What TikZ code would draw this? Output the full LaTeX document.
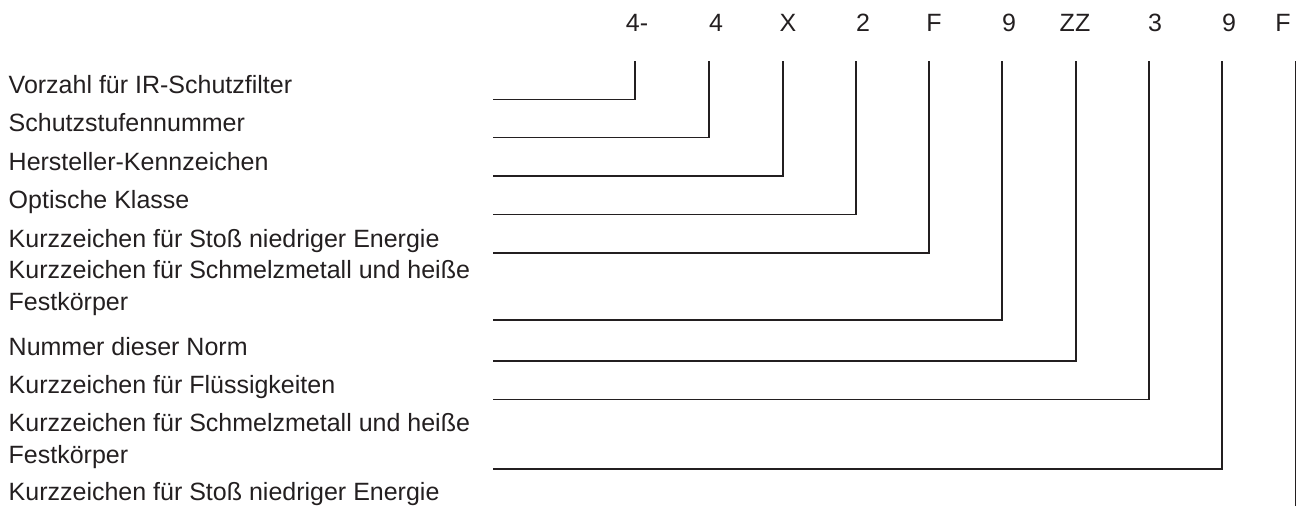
\documentclass[tikz,border=0pt]{standalone}
\usepackage{fontspec}
\setmainfont{Liberation Sans}
\usepackage{tikz}
\usetikzlibrary{positioning,calc}
\definecolor{ink}{HTML}{231F20}
\tikzset{
  % texte
  lbl/.style={anchor=base west,inner sep=0pt,align=left,text=ink,
              font=\fontsize{25}{32.5}\selectfont},
  code/.style={anchor=base,inner sep=0pt,text=ink,
               font=\fontsize{25}{30}\selectfont},
  % linien
  lead/.style={draw=ink,line width=1.8pt},
}
\begin{document}
\begin{tikzpicture}[x=1pt,y=-1pt]
  \useasboundingbox (0,0) rectangle (1297,506);
  % kennzeichnung
  \node[code] (c1)  at (637,31.5)  {4-};
  \node[code] (c2)  at (716,31.5)  {4};
  \node[code] (c3)  at (788,31.5)  {X};
  \node[code] (c4)  at (863,31.5)  {2};
  \node[code] (c5)  at (934,31.5)  {F};
  \node[code] (c6)  at (1009,31.5) {9};
  \node[code] (c7)  at (1075,31.5) {ZZ};
  \node[code] (c8)  at (1155,31.5) {3};
  \node[code] (c9)  at (1229,31.5) {9};
  \node[code] (c10) at (1283,31.5) {F};
  % bedeutung (base = letzte Zeile)
  \node[lbl] (l1)  at (8.5,93.5)  {Vorzahl für IR-Schutzfilter};
  \node[lbl] (l2)  at (8.5,131.5) {Schutzstufennummer};
  \node[lbl] (l3)  at (8.5,170)   {Hersteller-Kennzeichen};
  \node[lbl] (l4)  at (8.5,208.5) {Optische Klasse};
  \node[lbl] (l5)  at (8.5,247)   {Kurzzeichen für Stoß niedriger Energie};
  \node[lbl] (l6)  at (8.5,310.5) {Kurzzeichen für Schmelzmetall und heiße\\Festkörper};
  \node[lbl] (l7)  at (8.5,355)   {Nummer dieser Norm};
  \node[lbl] (l8)  at (8.5,393.5) {Kurzzeichen für Flüssigkeiten};
  \node[lbl] (l9)  at (8.5,463.5) {Kurzzeichen für Schmelzmetall und heiße\\Festkörper};
  \node[lbl] (l10) at (8.5,500)   {Kurzzeichen für Stoß niedriger Energie};
  % bezugslinien
  \coordinate (t1)  at (635,61);    \coordinate (s1) at (493,99.5);
  \coordinate (t2)  at (709,61);    \coordinate (s2) at (493,137.5);
  \coordinate (t3)  at (783,61);    \coordinate (s3) at (493,176);
  \coordinate (t4)  at (856,61);    \coordinate (s4) at (493,214.5);
  \coordinate (t5)  at (929,61);    \coordinate (s5) at (493,253);
  \coordinate (t6)  at (1002,61);   \coordinate (s6) at (493,320);
  \coordinate (t7)  at (1076,61);   \coordinate (s7) at (493,361);
  \coordinate (t8)  at (1149,61);   \coordinate (s8) at (493,399.5);
  \coordinate (t9)  at (1222,61);   \coordinate (s9) at (493,469);
  \coordinate (t10) at (1295.5,61); \coordinate (s10) at (1295.5,506);
  \draw[lead] (s1) -| (t1);
  \draw[lead] (s2) -| (t2);
  \draw[lead] (s3) -| (t3);
  \draw[lead] (s4) -| (t4);
  \draw[lead] (s5) -| (t5);
  \draw[lead] (s6) -| (t6);
  \draw[lead] (s7) -| (t7);
  \draw[lead] (s8) -| (t8);
  \draw[lead] (s9) -| (t9);
  \draw[lead] (s10) -- (t10);
\end{tikzpicture}
\end{document}
